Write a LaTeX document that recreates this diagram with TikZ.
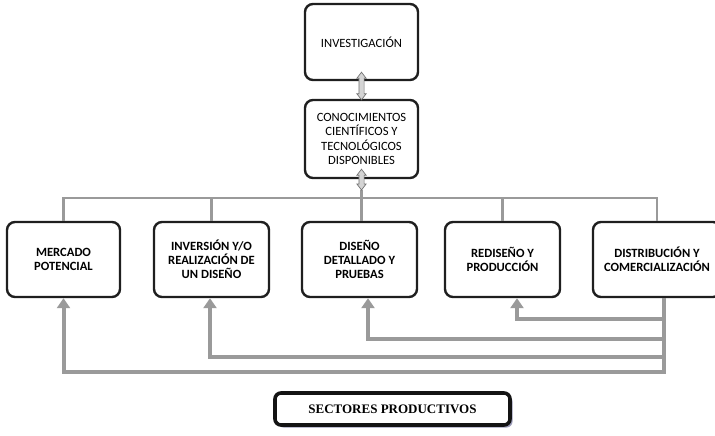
\documentclass[tikz,border=0pt]{standalone}
\usepackage{fontspec}
\setmainfont{Carlito}
\newfontfamily\timesf{Liberation Serif}
\usetikzlibrary{arrows.meta,calc}
\definecolor{conngray}{HTML}{9A9A9A}
\definecolor{shadowblue}{HTML}{9A9AB8}
\newcommand{\dblarr}[2]{%
  \path let \p1=(#1), \p2=(#2) in
  [draw=black!55, fill=black!17, line width=0.7pt, line join=miter]
  (\x1,\y1) -- (\x1+4.6pt,\y1-6pt) -- (\x1+2.6pt,\y1-6pt) -- (\x1+2.6pt,\y2+6pt)
  -- (\x1+4.6pt,\y2+6pt) -- (\x1,\y2) -- (\x1-4.6pt,\y2+6pt) -- (\x1-2.6pt,\y2+6pt)
  -- (\x1-2.6pt,\y1-6pt) -- (\x1-4.6pt,\y1-6pt) -- cycle;}
\begin{document}
\begin{tikzpicture}[x=1pt,y=-1pt,
  box/.style={draw=black!88, line width=2.4pt, rounded corners=8pt, align=center,
    inner sep=0pt, font=\fontsize{12.6}{14.5}\selectfont},
  bbox/.style={box, font=\fontsize{12.6}{14}\selectfont\bfseries},
  conn/.style={draw=conngray, line width=2.8pt, line join=miter},
  fbline/.style={draw=conngray, line width=4pt, line join=miter},
  fbarrow/.style={fbline, -{Triangle[width=13pt,length=10pt]}},
  sbox/.style={draw=black!92, line width=3.6pt, rounded corners=6pt, align=center,
    inner sep=0pt, font=\timesf\bfseries\fontsize{13}{15}\selectfont}]
\useasboundingbox (0,0) rectangle (715,436);

% top boxes
\node[box, minimum width=113pt, minimum height=76pt] (inv) at (361.5,42) {INVESTIGACIÓN};
\node[box, minimum width=113pt, minimum height=78pt] (con) at (361.5,139)
  {CONOCIMIENTOS\\CIENTÍFICOS Y\\TECNOLÓGICOS\\DISPONIBLES};

% bottom boxes
\node[bbox, minimum width=113pt, minimum height=75pt] (b1) at (63.5,259.5) {MERCADO\\POTENCIAL};
\node[bbox, minimum width=115pt, minimum height=75pt] (b2) at (211.5,259.5) {INVERSIÓN Y/O\\REALIZACIÓN DE\\UN DISEÑO};
\node[bbox, minimum width=115pt, minimum height=75pt] (b3) at (359.5,259.5) {DISEÑO\\DETALLADO Y\\PRUEBAS};
\node[bbox, minimum width=115pt, minimum height=75pt] (b4) at (502.5,259.5) {REDISEÑO Y\\PRODUCCIÓN};
\node[bbox, minimum width=128pt, minimum height=75pt] (b5) at (657,259.5) {DISTRIBUCIÓN Y\\COMERCIALIZACIÓN};

% sectores productivos
\fill[shadowblue, rounded corners=6pt] (277.5,395.5) rectangle (512.5,427.5);
\node[sbox, fill=white, minimum width=235pt, minimum height=32pt] (sp) at (392.5,409) {SECTORES PRODUCTIVOS};

% top distribution line
\coordinate (top) at (0,198);
\coordinate (a1top) at ($(inv.south)+(0,-9)$);
\coordinate (a1bot) at ($(con.north)+(0,1)$);
\coordinate (a2top) at ($(con.south)+(0,-10)$);
\coordinate (a2tip) at (361.5,190);
\draw[conn] (b1.north) -- (b1.north |- top) -- (b5.north |- top) -- (b5.north);
\draw[conn] (b2.north) -- (b2.north |- top);
\draw[conn] (b4.north) -- (b4.north |- top);
\draw[conn] (a2tip) -- (b3.north -| a2tip);

% double arrows
\dblarr{a1top}{a1bot}
\dblarr{a2top}{a2tip}

% feedback lines
\coordinate (fbx) at (664,0);
\coordinate (l1) at (0,319);
\coordinate (l2) at (0,339);
\coordinate (l3) at (0,357);
\coordinate (l4) at (0,372);
\draw[fbarrow] (b5.south -| fbx) |- (b1.south |- l4) -- (b1.south);
\draw[fbarrow] (fbx |- l3) -| ($(b2.south)+(-1.5,0)$);
\draw[fbarrow] (fbx |- l2) -| ($(b3.south)+(8.5,0)$);
\draw[fbarrow] (fbx |- l1) -| ($(b4.south)+(14.5,0)$);
\end{tikzpicture}
\end{document}
